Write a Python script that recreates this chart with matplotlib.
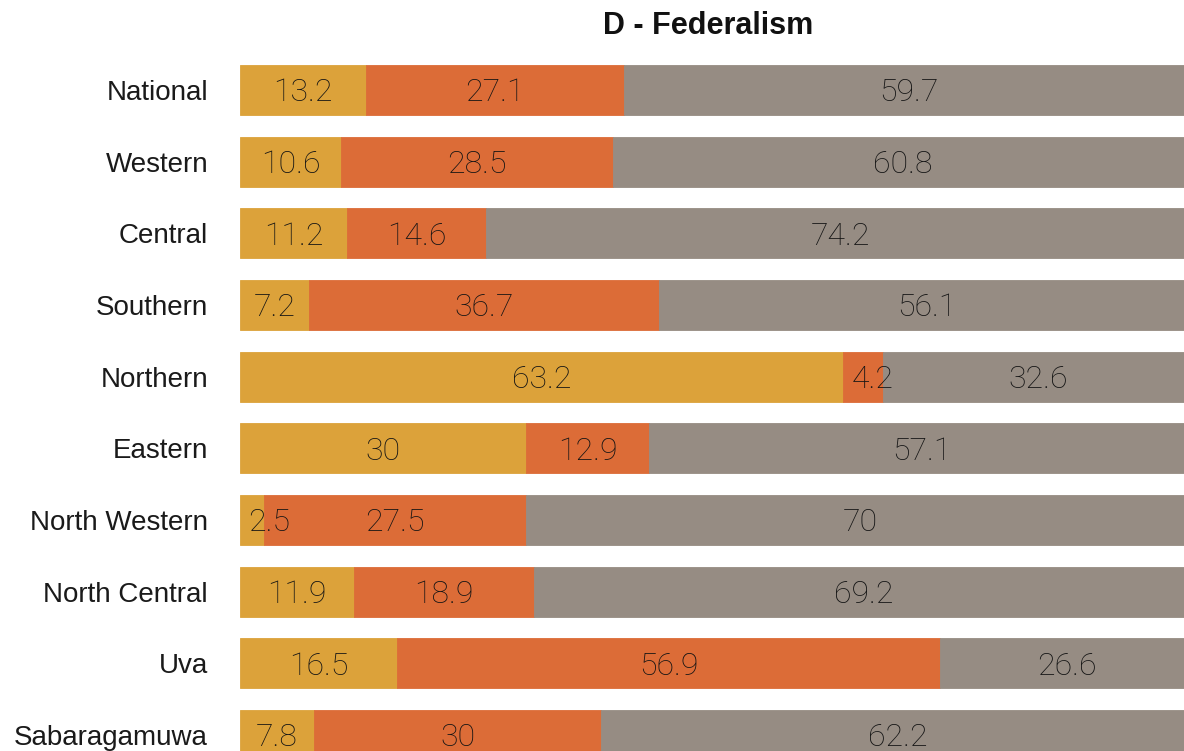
# -*- coding: utf-8 -*-
"""
Horizontal stacked bar chart: D - Federalism, share by province.
"""

import matplotlib
matplotlib.use("Agg")
import matplotlib.pyplot as plt

# data, top to bottom
provinces = ["National", "Western", "Central", "Southern", "Northern",
             "Eastern", "North Western", "North Central", "Uva", "Sabaragamuwa"]
part_a = [13.2, 10.6, 11.2, 7.2, 63.2, 30, 2.5, 11.9, 16.5, 7.8]
part_b = [27.1, 28.5, 14.6, 36.7, 4.2, 12.9, 27.5, 18.9, 56.9, 30]
part_c = [59.7, 60.8, 74.2, 56.1, 32.6, 57.1, 70, 69.2, 26.6, 62.2]

colors = ["#DCA23A", "#DC6C37", "#968C83"]

fig = plt.figure(figsize=(11.84, 7.51), dpi=100)
ax = fig.add_axes([240 / 1184, 0, 1 - 240 / 1184, 1])

ypos = list(range(len(provinces)))
left = [0] * len(provinces)
for vals, col in zip([part_a, part_b, part_c], colors):
    ax.barh(ypos, vals, left=left, height=0.7, color=col,
            edgecolor=col, linewidth=0.6)
    for y, v, l in zip(ypos, vals, left):
        if v < 5:
            # narrow segment: start the label just inside the left edge
            xy, dx, ha = (l, y), 6, "left"
        else:
            xy, dx, ha = (l + v / 2, y), 0, "center"
        ax.annotate(f"{v:g}", xy, xytext=(dx, -2), textcoords="offset points",
                    ha=ha, va="center", fontsize=23, color="#141414",
                    family="Roboto", fontweight="light", annotation_clip=False)
    left = [a + b for a, b in zip(left, vals)]

# the right end of the bars is cropped in the original
ax.set_xlim(0, 98.95)
ax.set_ylim(9.223, -1.256)
ax.set_yticks(ypos)
ax.set_yticklabels(provinces, fontsize=20, family="Liberation Sans", color="#1a1a1a")
ax.tick_params(axis="y", length=0, pad=23)
ax.set_xticks([])
for s in ax.spines.values():
    s.set_visible(False)

fig.text(708 / 1184, 1 - 26 / 751, "D - Federalism", ha="center", va="center",
         fontsize=22, fontweight="bold", family="Liberation Sans", color="#111111")

fig.savefig("out.png", dpi=100)
plt.close(fig)
